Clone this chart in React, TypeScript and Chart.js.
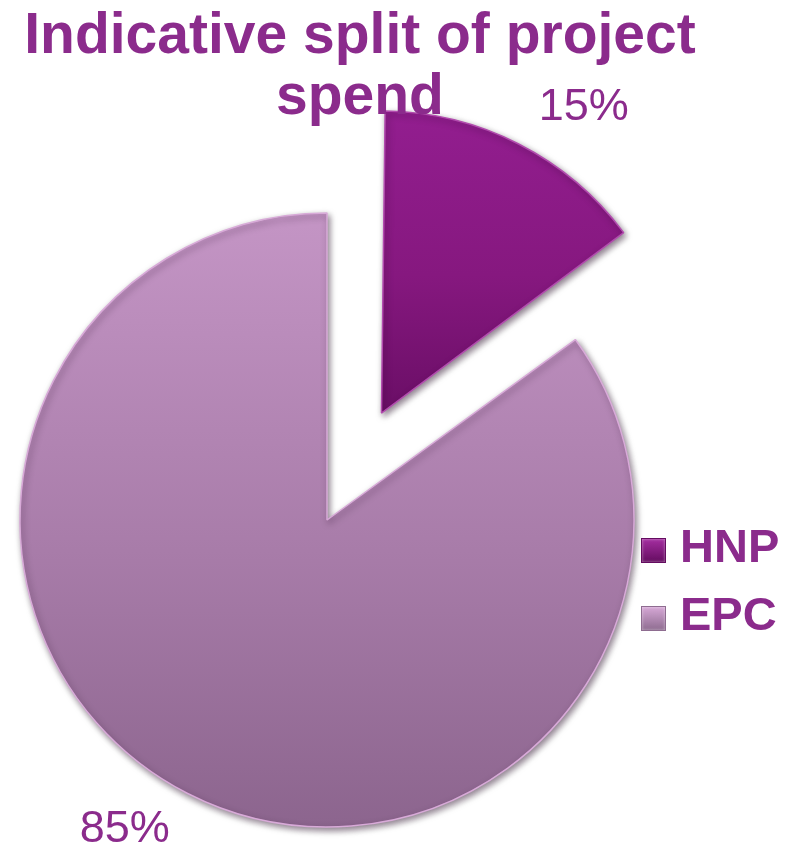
import React, { useEffect, useRef } from 'react';
import { Chart, registerables } from 'chart.js';

Chart.register(...registerables);

// ---- data ----
const categories: string[] = ['HNP', 'EPC'];
const shares: number[] = [15, 85];
const titleLines: string[] = ['Indicative split of project', 'spend'];

// ---- styles ----
const TEXT_COLOR = '#8b2b8c';
const FONT = '"Liberation Sans", Arial, Helvetica, sans-serif';
const RADIUS = 307;
const SLICE_RADIUS = [302, 307];
const EXPLODE_PX = [120, 0];
const LABEL_ANGLE_SHIFT = 0.11;
const LABEL_RADIUS_FACTOR = 1.2;
const FILL_TOP = ['#931e90', '#c495c5'];
const FILL_MID = ['#86187f', '#a87ca9'];
const FILL_BOTTOM = ['#6a0e66', '#8c658e'];
const BORDER = ['#b24cae', '#d8aad8'];
const BOX_TOP = ['#a42ea0', '#d6a8d6'];
const BOX_BOTTOM = ['#640c60', '#8e6c90'];

const sliceFill = (c: any) => {
  const chart = c.chart;
  const area = chart.chartArea;
  const i = c.dataIndex;
  if (!area) return FILL_TOP[i];
  const cy = (area.top + area.bottom) / 2;
  const top = cy - RADIUS;
  const bottom = i === 0 ? cy : cy + RADIUS;
  const g = chart.ctx.createLinearGradient(0, top, 0, bottom);
  g.addColorStop(0, FILL_TOP[i]);
  g.addColorStop(0.55, FILL_MID[i]);
  g.addColorStop(1, FILL_BOTTOM[i]);
  return g;
};

const piePlugin = {
  id: 'pieExtras',
  afterDatasetsUpdate(chart: any) {
    const meta = chart.getDatasetMeta(0);
    meta.data.forEach((arc: any, i: number) => {
      const off = EXPLODE_PX[i];
      const fix = 1 - Math.sin(Math.min(Math.PI, arc.circumference || 0));
      arc.outerRadius = SLICE_RADIUS[i] - off * fix;
    });
  },
  beforeDatasetsDraw(chart: any) {
    const ctx = chart.ctx;
    ctx.save();
    ctx.shadowColor = 'rgba(30,0,30,0.5)';
    ctx.shadowBlur = 6;
    ctx.shadowOffsetX = 2;
    ctx.shadowOffsetY = 3;
  },
  afterDatasetsDraw(chart: any) {
    const ctx = chart.ctx;
    ctx.restore();
    const meta = chart.getDatasetMeta(0);
    const total = shares.reduce((a, b) => a + b, 0);
    ctx.save();
    ctx.fillStyle = TEXT_COLOR;
    ctx.font = `45px ${FONT}`;
    ctx.textAlign = 'center';
    ctx.textBaseline = 'middle';
    meta.data.forEach((arc: any, i: number) => {
      const { x, y, startAngle, endAngle } = arc;
      const mid = (startAngle + endAngle) / 2;
      const cx = x + Math.cos(mid) * EXPLODE_PX[i];
      const cy = y + Math.sin(mid) * EXPLODE_PX[i];
      const a = mid + LABEL_ANGLE_SHIFT;
      const lr = RADIUS * LABEL_RADIUS_FACTOR;
      const pct = Math.round((shares[i] / total) * 100);
      ctx.fillText(`${pct}%`, cx + Math.cos(a) * lr, cy + Math.sin(a) * lr + 2);
    });
    ctx.restore();
  },
};

export default function App() {
  const ref = useRef<HTMLCanvasElement | null>(null);

  useEffect(() => {
    if (!ref.current) return;
    const chart = new Chart(ref.current, {
      type: 'pie',
      data: {
        labels: categories,
        datasets: [
          {
            data: shares,
            backgroundColor: sliceFill as any,
            borderColor: BORDER,
            borderWidth: 1.5,
            offset: EXPLODE_PX.map((p) => p * 4),
          },
        ],
      },
      options: {
        responsive: false,
        animation: false,
        radius: RADIUS,
        layout: { padding: { left: 0, right: 138, top: 186, bottom: 0 } },
        plugins: {
          legend: { display: false },
          title: { display: false },
          tooltip: { enabled: false },
        },
        events: [],
      } as any,
      plugins: [piePlugin],
    });
    return () => chart.destroy();
  }, []);

  return (
    <div style={{ position: 'absolute', left: 0, top: 0, width: 792, height: 854, overflow: 'hidden', background: '#fff' }}>
      <canvas ref={ref} width={792} height={854} style={{ position: 'absolute', left: 0, top: 0 }} />
      <div
        style={{
          position: 'absolute',
          left: 0,
          top: 3,
          width: 720,
          textAlign: 'center',
          fontFamily: FONT,
          fontWeight: 'bold',
          fontSize: 57,
          lineHeight: '61px',
          color: TEXT_COLOR,
          whiteSpace: 'nowrap',
        }}
      >
        {titleLines.map((l, i) => (
          <div key={i}>{l}</div>
        ))}
      </div>
      <div style={{ position: 'absolute', left: 641, top: 512 }}>
        {categories.map((c, i) => (
          <div key={c} style={{ display: 'flex', alignItems: 'center', height: 68 }}>
            <div
              style={{
                width: 25,
                height: 25,
                boxSizing: 'border-box',
                position: 'relative',
                top: 4,
                marginRight: 14,
                background: `linear-gradient(${BOX_TOP[i]}, ${BOX_BOTTOM[i]})`,
                border: `1px solid ${BOX_BOTTOM[i]}`,
                boxShadow: 'inset 0 0 3px rgba(255,255,255,0.5)',
              }}
            />
            <span
              style={{
                fontFamily: FONT,
                fontWeight: 'bold',
                fontSize: 47,
                lineHeight: '68px',
                color: TEXT_COLOR,
              }}
            >
              {c}
            </span>
          </div>
        ))}
      </div>
    </div>
  );
}
